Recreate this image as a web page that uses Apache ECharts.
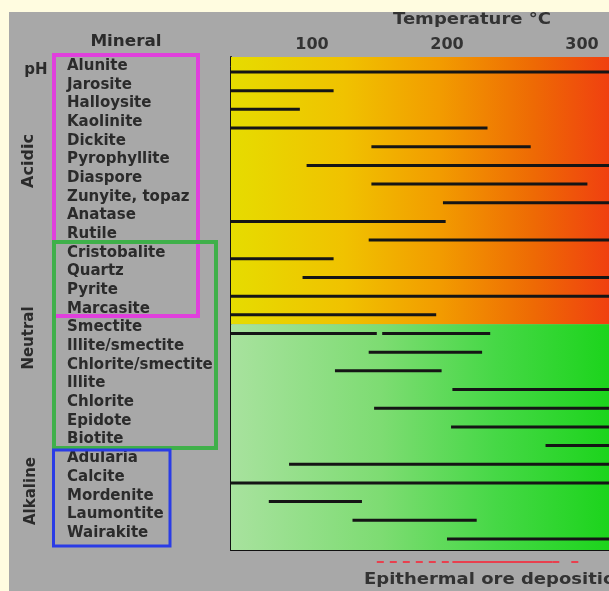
<!DOCTYPE html>
<html><head><meta charset="utf-8">
<script src="https://cdn.jsdelivr.net/npm/echarts@6/dist/echarts.min.js"></script>
<style>html,body{margin:0;padding:0;background:#fffce0;}#c{width:609px;height:591px;}</style>
</head><body><div id="c"></div>
<script>
// ---------- data ----------
const minerals = ['Alunite','Jarosite','Halloysite','Kaolinite','Dickite','Pyrophyllite','Diaspore','Zunyite, topaz','Anatase','Rutile','Cristobalite','Quartz','Pyrite','Marcasite','Smectite','Illite/smectite','Chlorite/smectite','Illite','Chlorite','Epidote','Biotite','Adularia','Calcite','Mordenite','Laumontite','Wairakite'];
const barMineral = ['Alunite','Jarosite','Halloysite','Kaolinite','Dickite','Pyrophyllite','Diaspore','Zunyite, topaz','Anatase','Rutile','Cristobalite','Quartz','Pyrite','Marcasite','Smectite','Smectite','Illite/smectite','Chlorite/smectite','Illite','Chlorite','Epidote','Biotite','Adularia','Calcite','Mordenite','Laumontite','Wairakite'];
const barFrom = [40, 40, 40, 40,144, 96,144,197, 40,142, 40, 93, 40, 40, 40,152,142,117,204,146,203,273, 83, 40, 68,130,200];
const barTo   = [320,116,91,230,262,320,304,320,199,320,116,320,320,192,148,232,226,196,320,320,320,320,320,320,137,222,320];
const tempTicks = [100, 200, 300];
const phGroups = ['Acidic', 'Neutral', 'Alkaline'];
const groupFirst = ['Alunite', 'Cristobalite', 'Adularia'];
const groupLast = ['Marcasite', 'Biotite', 'Wairakite'];
const fieldFirst = ['Alunite', 'Smectite'];
const fieldLast = ['Marcasite', 'Wairakite'];
const oreRange = [148, 204, 278, 306]; // dashed start, solid start, solid end, dashed end

// ---------- layout / style ----------
const xMin = 40, xMax = 320;
const yMin = -0.482, yMax = 25.91;
const rowShift = 0.32;
const FONT = 'DejaVu Sans';
const fieldFills = [
  new echarts.graphic.LinearGradient(0,0,1,0,[
    {offset:0,color:'#e6dc00'},{offset:0.3,color:'#f0c200'},{offset:0.55,color:'#f29c00'},{offset:0.8,color:'#ee6a04'},{offset:1,color:'#f04010'}]),
  new echarts.graphic.LinearGradient(0,0,1,0,[
    {offset:0,color:'#a8e29e'},{offset:0.4,color:'#7ddc72'},{offset:0.7,color:'#46d846'},{offset:1,color:'#1cd41c'}])
];
const boxStyles = [
  {color:'#e040dc', x0:54, x1:198, lw:4, padTop:0.59, padBottom:0.38},
  {color:'#3fb04a', x0:54, x1:216, lw:4, padTop:0.58, padBottom:0.45},
  {color:'#2a3ce6', x0:53.5, x1:170, lw:3, padTop:0.44, padBottom:0.70}
];

const idx = n => minerals.indexOf(n);
const rowValues = minerals.map((m, i) => i);

const chart = echarts.init(document.getElementById('c'), null, {renderer:'canvas'});

const option = {
  backgroundColor: '#fffce0',
  animation: false,
  grid: {left: 231, right: 0, top: 57, bottom: 41, containLabel: false, outerBoundsMode: 'none'},
  xAxis: [{
    type: 'value', position: 'top', min: xMin, max: xMax,
    splitLine: {show: false}, axisTick: {show: false},
    axisLine: {show: true, lineStyle: {color: '#555', width: 1}},
    axisLabel: {customValues: tempTicks, margin: 4, fontFamily: FONT, fontWeight: 'bold', fontSize: 16, color: '#333'}
  }, {
    type: 'value', position: 'bottom', min: xMin, max: xMax,
    splitLine: {show: false}, axisTick: {show: false}, axisLabel: {show: false},
    axisLine: {show: true, lineStyle: {color: '#111', width: 2}}
  }],
  yAxis: {
    type: 'value', inverse: true, min: yMin, max: yMax,
    splitLine: {show: false}, axisTick: {show: false},
    axisLine: {show: true, lineStyle: {color: '#111', width: 2}},
    axisLabel: {
      customValues: rowValues, align: 'left', margin: 164,
      formatter: v => minerals[Math.round(v)],
      fontFamily: FONT, fontWeight: 'bold', fontSize: 15, color: '#2b2b2b'
    }
  },
  graphic: [
    {type:'rect', z:-100, shape:{x:9, y:12, width:600, height:579}, style:{fill:'#a8a8a8'}, silent:true},
    {type:'text', z:100, x:126, y:42, scaleX:1.12, style:{text:'Mineral', font:'bold 15px "DejaVu Sans"', fill:'#2b2b2b', align:'center', verticalAlign:'middle'}},
    {type:'text', z:100, x:472, y:20, scaleX:1.2, style:{text:'Temperature °C', font:'bold 15px "DejaVu Sans"', fill:'#333', align:'center', verticalAlign:'middle'}},
    {type:'text', z:100, x:36, y:70, style:{text:'pH', font:'bold 15px "DejaVu Sans"', fill:'#2b2b2b', align:'center', verticalAlign:'middle'}},
    {type:'text', z:100, x:29, y:161, rotation:Math.PI/2, style:{text:phGroups[0], font:'bold 16px "DejaVu Sans"', fill:'#2b2b2b', align:'center', verticalAlign:'middle'}},
    {type:'text', z:100, x:29, y:338, rotation:Math.PI/2, style:{text:phGroups[1], font:'bold 15px "DejaVu Sans"', fill:'#2b2b2b', align:'center', verticalAlign:'middle'}},
    {type:'text', z:100, x:31, y:491, rotation:Math.PI/2, style:{text:phGroups[2], font:'bold 15px "DejaVu Sans"', fill:'#2b2b2b', align:'center', verticalAlign:'middle'}},
    {type:'text', z:100, x:364, y:580, scaleX:1.2, style:{text:'Epithermal ore deposition', font:'bold 15px "DejaVu Sans"', fill:'#333', align:'left', verticalAlign:'middle'}}
  ],
  series: [
    {
      type: 'custom', name: 'fields', z: 1, clip: false,
      data: fieldFirst.map((n, i) => [idx(n), idx(fieldLast[i])]),
      encode: {y: [0, 1]},
      renderItem: (params, api) => {
        const cs = params.coordSys, i = params.dataIndex;
        const f = api.value(0), l = api.value(1);
        const top = i === 0 ? cs.y : api.coord([xMin, f - 0.5 + rowShift])[1];
        const bottom = i === fieldFirst.length - 1 ? cs.y + cs.height : api.coord([xMin, l + 0.5 + rowShift])[1];
        return {type:'rect', shape:{x:cs.x, y:top, width:cs.width, height:bottom - top}, style:{fill: fieldFills[i]}};
      }
    },
    {
      type: 'custom', name: 'ranges', z: 3, clip: true,
      data: barMineral.map((m, i) => [barFrom[i], barTo[i], idx(m)]),
      encode: {x: [0, 1], y: 2},
      renderItem: (params, api) => {
        const r = api.value(2) + rowShift;
        const p0 = api.coord([api.value(0), r]), p1 = api.coord([api.value(1), r]);
        return {type:'line', shape:{x1:p0[0], y1:p0[1], x2:p1[0], y2:p1[1]}, style:{stroke:'#151515', lineWidth:3}};
      }
    },
    {
      type: 'custom', name: 'groups', z: 4, clip: false,
      data: groupFirst.map((n, i) => [idx(n), idx(groupLast[i])]),
      encode: {y: [0, 1]},
      renderItem: (params, api) => {
        const s = boxStyles[params.dataIndex];
        const top = api.coord([xMin, api.value(0) - s.padTop])[1];
        const bottom = api.coord([xMin, api.value(1) + s.padBottom])[1];
        return {type:'rect', shape:{x:s.x0, y:top, width:s.x1 - s.x0, height:bottom - top},
          style:{fill:'none', stroke:s.color, lineWidth:s.lw}};
      }
    },
    {
      type: 'custom', name: 'ore', z: 4, clip: false,
      data: [oreRange],
      encode: {x: [0, 1, 2, 3]},
      renderItem: (params, api) => {
        const cs = params.coordSys;
        const y = cs.y + cs.height + 12;
        const xs = [0,1,2,3].map(k => api.coord([api.value(k), 0])[0]);
        const st = {stroke:'#e8404e', lineWidth:2};
        return {type:'group', children:[
          {type:'line', shape:{x1:xs[0], y1:y, x2:xs[1], y2:y}, style:Object.assign({lineDash:[7,6]}, st)},
          {type:'line', shape:{x1:xs[1], y1:y, x2:xs[2], y2:y}, style:st},
          {type:'line', shape:{x1:xs[2], y1:y, x2:xs[3], y2:y}, style:Object.assign({lineDash:[7,12]}, st)}
        ]};
      }
    }
  ]
};
chart.setOption(option);
</script>
</body></html>
